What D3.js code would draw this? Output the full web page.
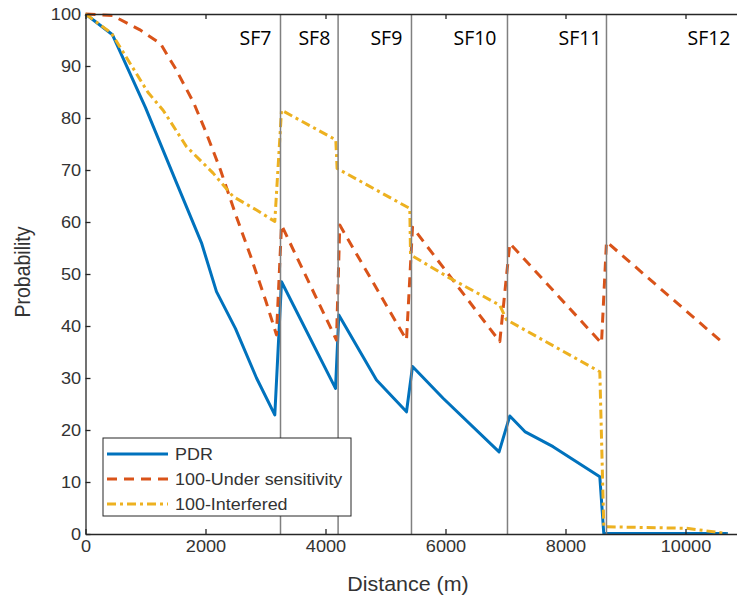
<!DOCTYPE html>
<html>
<head>
<meta charset="utf-8">
<script src="https://cdn.jsdelivr.net/npm/d3@7"></script>
<style>
  body { margin: 0; background: #fff; }
  svg { display: block; }
</style>
</head>
<body>
<div id="chart"></div>
<script>
// distances (m) and values (%)
const distPDR = [0, 450, 1000, 1500, 1933, 2183, 2500, 2850, 3155, 3267, 4167, 4222, 4850, 5350, 5450, 5960, 6893, 7072, 7322, 7793, 8572, 8638, 10705];
const pdr     = [100, 96, 82, 68, 56, 46.6, 39.5, 30, 22.9, 48.5, 28, 42.1, 29.6, 23.5, 32.2, 26.1, 15.8, 22.7, 19.7, 16.8, 11.0, 0.1, 0.1];

const distUnder = [0, 450, 900, 1250, 1500, 1800, 2000, 2250, 2500, 2750, 3000, 3183, 3267, 4183, 4238, 5350, 5450, 6905, 7072, 8600, 8683, 10600];
const underSens = [100, 99.7, 97, 94.3, 89.5, 83, 77.5, 70, 61.5, 53.5, 45, 38.3, 59.4, 37.3, 59.4, 37.3, 59, 37, 55.9, 36.7, 56.2, 37];

const distInterf = [0, 433, 1043, 1293, 1683, 2127, 2460, 2850, 3155, 3267, 4172, 4193, 5405, 5417, 6072, 6905, 7017, 8572, 8638, 10017, 10683];
const interfered = [100, 96.3, 84.9, 81.5, 74.5, 69.4, 64.9, 62.3, 60.1, 81.5, 75.8, 70.3, 62.6, 53.7, 49.2, 44, 41.2, 31.2, 1.4, 1.1, 0.1];

// spreading factor boundaries
const sfBounds = [3250, 4210, 5433, 7033, 8683];
const sfLabels = ["SF7", "SF8", "SF9", "SF10", "SF11", "SF12"];
const sfLabelPos = [3100, 4080, 5280, 6850, 8600, 10750];

const xTicks = [0, 2000, 4000, 6000, 8000, 10000];
const yTicks = [0, 10, 20, 30, 40, 50, 60, 70, 80, 90, 100];

const seriesNames = ["PDR", "100-Under sensitivity", "100-Interfered"];

const W = 737, H = 601;
const axisColor = "#262626";
const textColor = "#333";
const stretch = "scale(1.1,1)";

const svg = d3.select("#chart").append("svg")
    .attr("width", W)
    .attr("height", H);

const x = d3.scaleLinear().domain([0, 11000]).range([85.5, 745.5]);
const y = d3.scaleLinear().domain([0, 100]).range([534, 14]);

const series = [
    { name: seriesNames[0], xs: distPDR, ys: pdr, color: "#0072BD", dash: null },
    { name: seriesNames[1], xs: distUnder, ys: underSens, color: "#D95319", dash: "10,7" },
    { name: seriesNames[2], xs: distInterf, ys: interfered, color: "#EDB120", dash: "9,4,3,4" }
];

const line = d3.line()
    .x(d => x(d[0]))
    .y(d => y(d[1]));

series.forEach(s => {
    svg.append("path")
        .datum(s.xs.map((v, i) => [v, s.ys[i]]))
        .attr("fill", "none")
        .attr("stroke", s.color)
        .attr("stroke-width", 3)
        .attr("stroke-linejoin", "round")
        .attr("stroke-dasharray", s.dash)
        .attr("d", line);
});

// SF boundary lines
svg.append("g")
    .selectAll("line")
    .data(sfBounds)
    .enter()
    .append("line")
        .attr("x1", d => x(d))
        .attr("x2", d => x(d))
        .attr("y1", y(100))
        .attr("y2", y(0))
        .attr("stroke", "#808080")
        .attr("stroke-width", 1.5);

svg.append("g")
    .selectAll("text")
    .data(sfLabels)
    .enter()
    .append("text")
        .attr("x", (d, i) => x(sfLabelPos[i]))
        .attr("y", 45)
        .attr("text-anchor", "end")
        .style("font-family", "'Open Sans', 'Noto Sans', sans-serif")
        .style("font-size", "19.5px")
        .style("fill", "#000")
        .text(d => d);

// axes
const xAxis = svg.append("g")
    .attr("transform", "translate(0," + y(0) + ")")
    .call(d3.axisBottom(x).tickValues(xTicks).tickFormat(d3.format("d"))
        .tickSizeInner(-5).tickSizeOuter(0).tickPadding(6));

const xTop = svg.append("g")
    .attr("transform", "translate(0," + y(100) + ")")
    .call(d3.axisTop(x).tickValues(xTicks).tickSizeInner(-5).tickSizeOuter(0).tickFormat(""));

const yAxis = svg.append("g")
    .attr("transform", "translate(" + x(0) + ",0)")
    .call(d3.axisLeft(y).tickValues(yTicks).tickSizeInner(-5).tickSizeOuter(0).tickPadding(4));

[xAxis, xTop, yAxis].forEach(g => {
    g.select(".domain").attr("stroke", axisColor).attr("stroke-width", 1.3);
    g.selectAll(".tick line").attr("stroke", axisColor).attr("stroke-width", 1.3);
    g.selectAll(".tick text")
        .attr("fill", textColor)
        .attr("transform", stretch)
        .style("font-family", "'Liberation Sans', Arial, sans-serif")
        .style("font-size", "16.5px");
});

svg.append("text")
    .attr("x", 408)
    .attr("y", 591)
    .attr("text-anchor", "middle")
    .attr("transform", "translate(408,0) scale(1.1,1) translate(-408,0)")
    .style("font-family", "'Liberation Sans', Arial, sans-serif")
    .style("font-size", "19.5px")
    .style("fill", textColor)
    .text("Distance (m)");

svg.append("text")
    .attr("transform", "translate(30,272) scale(1.1,1) rotate(-90)")
    .attr("text-anchor", "middle")
    .style("font-family", "'Liberation Sans', Arial, sans-serif")
    .style("font-size", "19.5px")
    .style("fill", textColor)
    .text("Probability");

// legend
const legend = svg.append("g");
legend.append("rect")
    .attr("x", 103)
    .attr("y", 438)
    .attr("width", 248)
    .attr("height", 78)
    .attr("fill", "#fff")
    .attr("stroke", axisColor)
    .attr("stroke-width", 1);

series.forEach((s, i) => {
    const ly = 454 + i * 25;
    legend.append("line")
        .attr("x1", 107)
        .attr("x2", 168)
        .attr("y1", ly)
        .attr("y2", ly)
        .attr("stroke", s.color)
        .attr("stroke-width", 3)
        .attr("stroke-dasharray", s.dash);
    legend.append("text")
        .attr("x", 175 / 1.1)
        .attr("y", ly)
        .attr("dy", "0.35em")
        .attr("transform", stretch)
        .style("font-family", "'Liberation Sans', Arial, sans-serif")
        .style("font-size", "16.3px")
        .style("fill", textColor)
        .text(s.name);
});
</script>
</body>
</html>
